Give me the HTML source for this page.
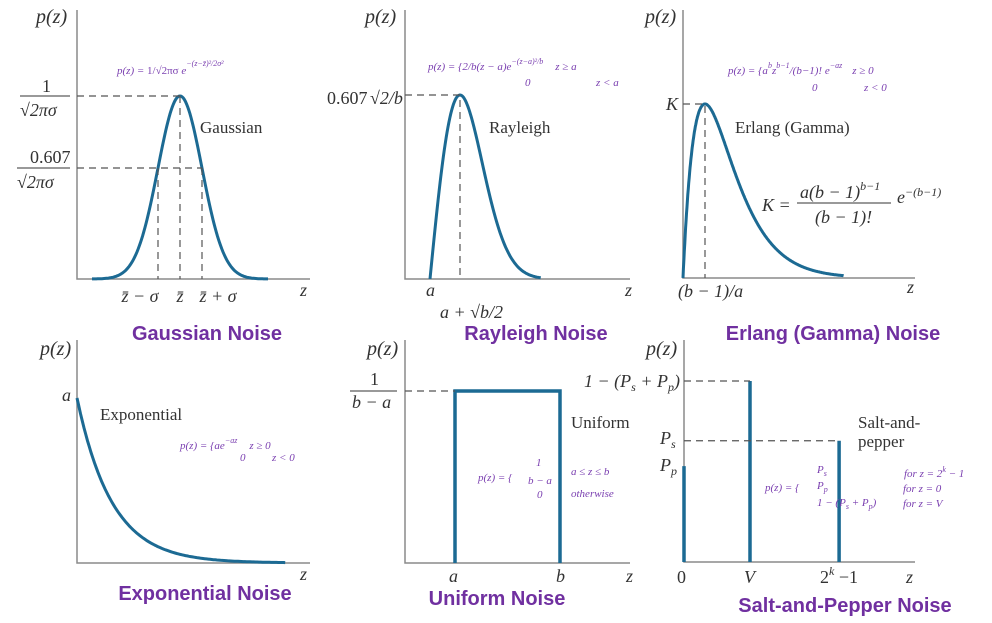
<!DOCTYPE html>
<html><head><meta charset="utf-8"><style>
body{margin:0;background:#fff;}
svg{display:block;}
.ax{stroke:#8a8a8a;stroke-width:1.5;fill:none}
.crv{stroke:#1c6a93;stroke-width:3;fill:none}
.bar{stroke:#1c6a93;stroke-width:3.5;fill:none}
.dash{stroke:#555;stroke-width:1.2;stroke-dasharray:7,5;fill:none}
.m{font-family:"Liberation Serif",serif;font-size:18px;fill:#333}
.mi{font-family:"Liberation Serif",serif;font-style:italic;font-size:18px;fill:#333}
.pz{font-family:"Liberation Serif",serif;font-style:italic;font-size:20px;fill:#333}
.lab{font-family:"Liberation Serif",serif;font-size:17px;fill:#333}
.f{font-family:"Liberation Serif",serif;font-style:italic;font-size:11px;fill:#7a3fb0}
.t{font-family:"Liberation Sans",sans-serif;font-weight:bold;font-size:20px;fill:#7030a0}
</style></head><body>
<svg id="c" width="992" height="623" viewBox="0 0 992 623" xmlns="http://www.w3.org/2000/svg">
<g>
<polyline class="ax" points="77,10 77,279 310,279"/>
<polyline class="ax" points="405,10 405,279 630,279"/>
<polyline class="ax" points="683,10 683,278 915,278"/>
<polyline class="ax" points="77,340 77,563 310,563"/>
<polyline class="ax" points="405,340 405,563 630,563"/>
<polyline class="ax" points="684,340 684,562 915,562"/>
</g>
<g id="marks"></g>
<g>
<text class="pz" x="36" y="23">p(z)</text>
<text class="m" x="42" y="92">1</text>
<line x1="20" y1="96" x2="70" y2="96" stroke="#333"/>
<text class="mi" x="20" y="116">√2πσ</text>
<text class="m" x="30" y="163">0.607</text>
<line x1="17" y1="168" x2="70" y2="168" stroke="#333"/>
<text class="mi" x="17" y="188">√2πσ</text>
<text class="lab" x="200" y="133">Gaussian</text>
<text class="mi" x="140" y="302" text-anchor="middle">z̄ − σ</text>
<text class="mi" x="180" y="302" text-anchor="middle">z̄</text>
<text class="mi" x="218" y="302" text-anchor="middle">z̄ + σ</text>
<text class="mi" x="300" y="296">z</text>
<text class="f" x="117" y="74">p(z) = <tspan font-style="normal">1/√2πσ</tspan> e<tspan dy="-8" font-size="8">−(z−z̄)²/2σ²</tspan></text>
<text class="t" x="207" y="340" text-anchor="middle">Gaussian Noise</text>
</g>
<g>
<text class="pz" x="365" y="23">p(z)</text>
<text class="m" x="327" y="104">0.607</text>
<text class="mi" x="370" y="104">√2/b</text>
<text class="lab" x="489" y="133">Rayleigh</text>
<text class="mi" x="426" y="296">a</text>
<text class="mi" x="440" y="318">a + √b/2</text>
<text class="mi" x="625" y="296">z</text>
<text class="f" x="428" y="70">p(z) = {2/b(z − a)e<tspan dy="-6" font-size="8">−(z−a)²/b</tspan><tspan dy="6" dx="12">z ≥ a</tspan></text>
<text class="f" x="525" y="86" font-style="normal">0</text><text class="f" x="596" y="86">z &lt; a</text>
<text class="t" x="536" y="340" text-anchor="middle">Rayleigh Noise</text>
</g>
<g>
<text class="pz" x="645" y="23">p(z)</text>
<text class="mi" x="666" y="110">K</text>
<text class="lab" x="735" y="133">Erlang (Gamma)</text>
<text class="mi" x="762" y="211">K =</text>
<text class="mi" x="800" y="198">a(b − 1)<tspan dy="-8" font-size="12">b−1</tspan></text>
<line x1="797" y1="203" x2="891" y2="203" stroke="#333"/>
<text class="mi" x="815" y="223">(b − 1)!</text>
<text class="mi" x="897" y="203">e<tspan dy="-7" font-size="12">−(b−1)</tspan></text>
<text class="mi" x="678" y="297">(b − 1)/a</text>
<text class="mi" x="907" y="293">z</text>
<text class="f" x="728" y="74">p(z) = {a<tspan dy="-6" font-size="8">b</tspan><tspan dy="6">z</tspan><tspan dy="-6" font-size="8">b−1</tspan><tspan dy="6">/(b−1)! e</tspan><tspan dy="-6" font-size="8">−az</tspan><tspan dy="6" dx="10">z ≥ 0</tspan></text>
<text class="f" x="812" y="91" font-style="normal">0</text><text class="f" x="864" y="91">z &lt; 0</text>
<text class="t" x="833" y="340" text-anchor="middle">Erlang (Gamma) Noise</text>
</g>
<g>
<text class="pz" x="40" y="355">p(z)</text>
<text class="mi" x="62" y="401">a</text>
<text class="lab" x="100" y="420">Exponential</text>
<text class="f" x="180" y="449">p(z) = {ae<tspan dy="-6" font-size="8">−az</tspan><tspan dy="6" dx="12">z ≥ 0</tspan></text>
<text class="f" x="240" y="461" font-style="normal">0</text><text class="f" x="272" y="461">z &lt; 0</text>
<text class="mi" x="300" y="580">z</text>
<text class="t" x="205" y="600" text-anchor="middle">Exponential Noise</text>
</g>
<g>
<text class="pz" x="367" y="355">p(z)</text>
<text class="m" x="370" y="385">1</text>
<line x1="350" y1="391" x2="397" y2="391" stroke="#333"/>
<text class="mi" x="352" y="408">b − a</text>
<text class="lab" x="571" y="428">Uniform</text>
<text class="f" x="478" y="481">p(z) = {</text>
<text class="f" x="536" y="466" font-style="normal">1</text>
<text class="f" x="528" y="484">b − a</text>
<text class="f" x="537" y="498" font-style="normal">0</text>
<text class="f" x="571" y="475">a ≤ z ≤ b</text>
<text class="f" x="571" y="497" font-style="normal">otherwise</text>
<text class="mi" x="449" y="582">a</text><text class="mi" x="556" y="582">b</text><text class="mi" x="626" y="582">z</text>
<text class="t" x="497" y="605" text-anchor="middle">Uniform Noise</text>
</g>
<g>
<text class="pz" x="646" y="355">p(z)</text>
<text class="mi" x="680" y="387" text-anchor="end">1 − (P<tspan font-size="12" dy="4">s</tspan><tspan dy="-4"> + P</tspan><tspan font-size="12" dy="4">p</tspan><tspan dy="-4">)</tspan></text>
<text class="mi" x="660" y="444">P<tspan font-size="12" dy="4">s</tspan></text>
<text class="mi" x="660" y="471">P<tspan font-size="12" dy="4">p</tspan></text>
<text class="lab" x="858" y="428">Salt-and-</text>
<text class="lab" x="858" y="447">pepper</text>
<text class="f" x="765" y="491">p(z) = {</text>
<text class="f" x="817" y="473">P<tspan font-size="8" dy="3">s</tspan></text>
<text class="f" x="817" y="489">P<tspan font-size="8" dy="3">p</tspan></text>
<text class="f" x="817" y="506">1 − (P<tspan font-size="8" dy="3">s</tspan><tspan dy="-3"> + P</tspan><tspan font-size="8" dy="3">p</tspan><tspan dy="-3">)</tspan></text>
<text class="f" x="904" y="477" font-style="normal">for <tspan font-style="italic">z = 2<tspan dy="-5" font-size="8">k</tspan><tspan dy="5"> − 1</tspan></tspan></text>
<text class="f" x="903" y="492" font-style="normal">for <tspan font-style="italic">z = 0</tspan></text>
<text class="f" x="903" y="507" font-style="normal">for <tspan font-style="italic">z = V</tspan></text>
<text class="m" x="677" y="583">0</text>
<text class="mi" x="744" y="583">V</text>
<text class="m" x="820" y="583">2<tspan dy="-8" font-size="12" font-style="italic">k</tspan><tspan dy="8"> −1</tspan></text>
<text class="mi" x="906" y="583">z</text>
<text class="t" x="845" y="612" text-anchor="middle">Salt-and-Pepper Noise</text>
</g>
</svg>
<script>
const gaussianParams=[0,1];
const rayleighParams=[0,1];
const erlangParams=[2,1];
const exponentialParams=[1];
const uniformParams=[1,2];
const spCategories=["0","V","2^k-1"];
const spPositions=[0,1,2.35];
const spValues=[0.53,1,0.67];

const NS="http://www.w3.org/2000/svg";
const g=document.getElementById('marks');
function mk(tag,attrs){const e=document.createElementNS(NS,tag);for(const k in attrs)e.setAttribute(k,attrs[k]);g.appendChild(e);return e;}
function pathFrom(pts){return pts.map((p,i)=>(i?'L':'M')+p[0].toFixed(1)+','+p[1].toFixed(1)).join('');}

{const[m,s]=gaussianParams;const sx=z=>180+(z-m)/s*22,sy=v=>279-183*v;const pts=[];
for(let z=-4;z<=4.001;z+=0.05)pts.push([sx(z),sy(Math.exp(-(z-m)*(z-m)/(2*s*s)))]);
const p=mk('path',{d:pathFrom(pts),class:'crv'});


const v=Math.exp(-0.5);
const d=mk('path',{class:'dash',d:`M77,${sy(1)}H${sx(m)}M${sx(m)},${sy(1)}V279M77,${sy(v)}H${sx(m+s)}M${sx(m-s)},${sy(v)}V279M${sx(m+s)},${sy(v)}V279`});

}

{const[a,mo]=rayleighParams;const sx=u=>430+(u-a)*30,sy=v=>279-184*v;const pts=[];
for(let u=0;u<=3.7;u+=0.03)pts.push([sx(u),sy(u/mo*Math.exp(0.5-u*u/(2*mo*mo)))]);
const p=mk('path',{d:pathFrom(pts),class:'crv'});


const d=mk('path',{class:'dash',d:`M405,${sy(1)}H${sx(mo)}V279`});

}

{const[b,ar]=erlangParams;const mode=(b-1)/ar;const sx=u=>683+u*22,sy=v=>278-174*v;
const f=u=>Math.pow(u/mode,b-1)*Math.exp((b-1)-ar*u);const pts=[];
for(let u=0;u<=7.3;u+=0.02)pts.push([sx(u),sy(f(u))]);
const p=mk('path',{d:pathFrom(pts),class:'crv'});


const d=mk('path',{class:'dash',d:`M683,${sy(1)}H${sx(mode)}V278`});

}

{const[a]=exponentialParams;const sx=u=>77+u*35,sy=v=>563-165*v;const pts=[];
for(let u=0;u<=5.95;u+=0.05)pts.push([sx(u),sy(Math.exp(-a*u))]);
const p=mk('path',{d:pathFrom(pts),class:'crv'});

}

{const[a,b]=uniformParams;const sx=z=>455+(z-1)*105,sy=v=>563-172*v;const h=1/(b-a);
const p=mk('path',{class:'bar',d:`M${sx(a)},563V${sy(h)}H${sx(b)}V563`});


const d=mk('path',{class:'dash',d:`M405,${sy(h)}H${sx(a)}`});

}

{const sx=z=>684+z*66,sy=v=>562-181*v;
spValues.forEach((v,i)=>{
const l=mk('line',{class:'bar',x1:sx(spPositions[i]),x2:sx(spPositions[i]),y1:562,y2:sy(v)});


if(i>0){const d=mk('path',{class:'dash',d:`M684,${sy(v)}H${sx(spPositions[i])}`});

}
});}
</script>
</body></html>
